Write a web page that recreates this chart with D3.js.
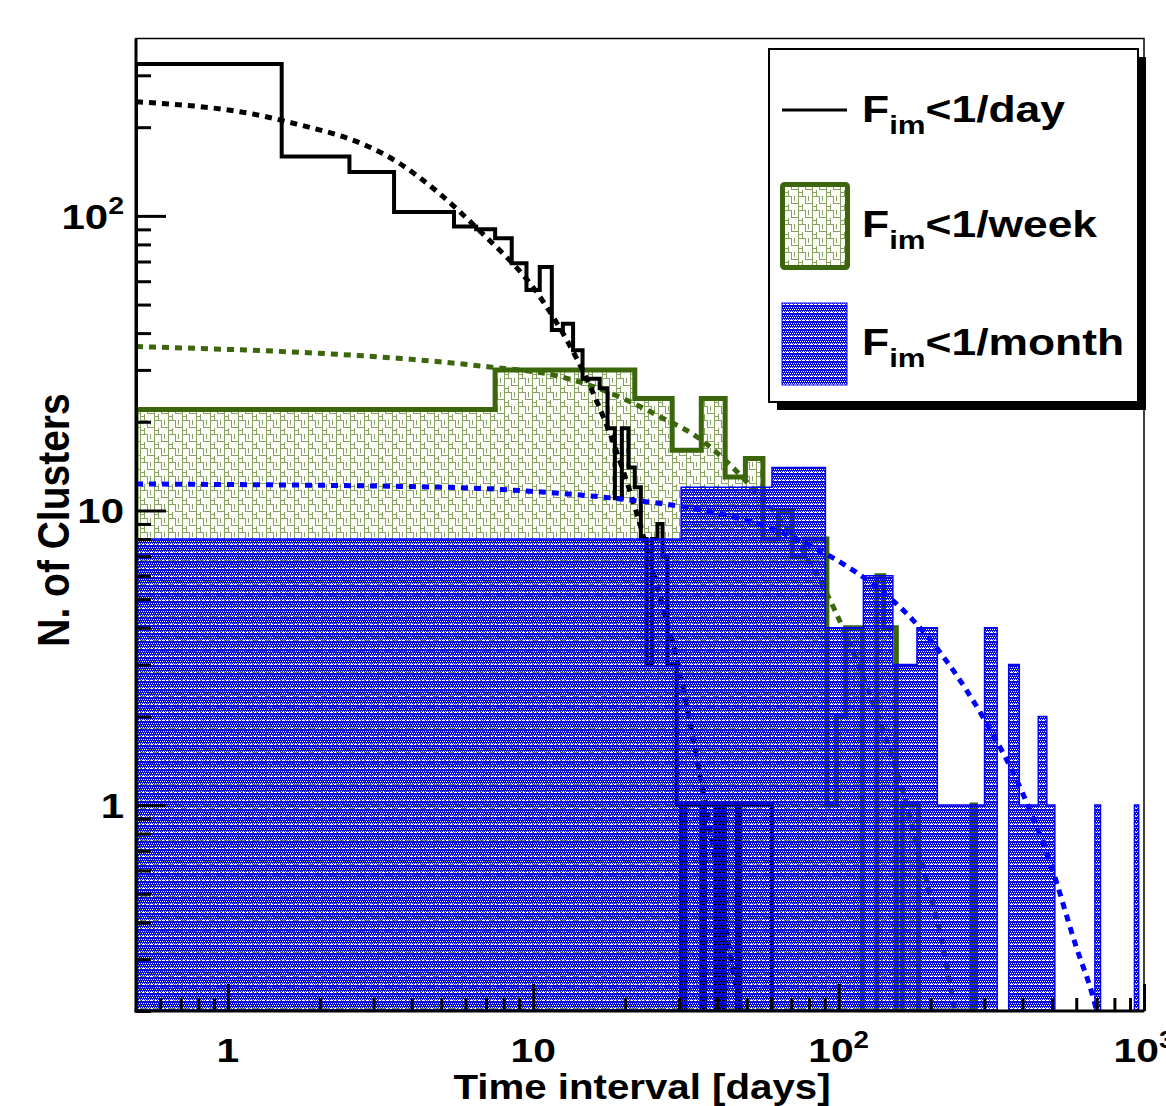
<!DOCTYPE html>
<html>
<head>
<meta charset="utf-8">
<script src="https://d3js.org/d3.v7.min.js"></script>
<style>
  body { margin: 0; background: #fff; }
  text { font-family: "Liberation Sans", Arial, Helvetica, sans-serif; font-weight: bold; fill: #000; }
</style>
</head>
<body>
<svg id="chart" width="1166" height="1106"></svg>
<script>
// histograms start at 0.5 days, bin widths in days
var binStart = 0.5;
var dayBinWidth = 1;
var weekBinWidth = 7;
var monthBinWidth = 30;

// F_im < 1/day, one bin per day
var dayCounts = [328, 159, 141, 103, 103, 92, 90, 84, 69, 56,
                 67, 41, 43, 35, 28, 28, 26, 19, 11, 19,
                 14, 12, 8, 3, 8, 9, 7, 3, 3, 1,
                 0, 1, 1, 1, 1, 0, 1, 1, 1, 0,
                 1, 0, 1, 1, 1, 1, 0, 1, 1, 1,
                 1, 1, 1, 1, 1, 1, 1, 1, 1, 1];

// F_im < 1/week, 7 day bins
var weekCounts = [22, 30, 30, 24, 16, 24, 13, 15, 8, 10,
                  7, 8, 8, 1, 2, 4, 4, 0, 0, 6,
                  4, 4, 0, 1, 1, 1, 0, 0, 0, 0,
                  0, 0, 0, 0, 0, 0, 0, 0, 0, 1];

// F_im < 1/month, 30 day bins
var monthCounts = [8, 12, 14, 4, 6, 3, 4, 1, 1, 1,
                   4, 0, 3, 1, 1, 2, 1, 0, 0, 0,
                   0, 0, 0, 1, 0, 0, 0, 0, 0, 0,
                   0, 1];

// fitted curves, [days, clusters]
var dayFit = [[0.5, 244], [1.5, 211], [3.6, 152], [6.6, 90], [10.8, 51], [15.2, 27],
              [17.8, 18.3], [21.8, 9.8], [25, 5.9], [30, 2.9], [35, 1.3], [40, 0.6],
              [45.6, 0.26], [48, 0.2]];
var weekFit = [[0.5, 36], [7.2, 30.7], [12.2, 28.5], [19.5, 24.1], [26, 20.8], [34.3, 17.8],
               [50, 12.5], [82, 6.45], [98, 4.5], [130, 2.2], [159, 1.2], [190, 0.6],
               [220, 0.33], [240, 0.2]];
var monthFit = [[0.5, 12.3], [5, 12.0], [10, 11.6], [20, 10.9], [32.6, 10.2], [60, 8.7],
                [93.6, 7.0], [130, 5.6], [175, 4.25], [230, 3.0], [296, 2.0], [400, 1.1],
                [492, 0.64], [600, 0.33], [680, 0.224], [700, 0.2]];

var xMajor = [1, 10, 100, 1000];
var xMinor = [0.6, 0.7, 0.8, 0.9, 2, 3, 4, 5, 6, 7, 8, 9, 20, 30, 40, 50, 60, 70, 80, 90,
              200, 300, 400, 500, 600, 700, 800, 900];
var xTickBase = ['1', '10', '10', '10'];
var xTickExp = ['', '', '2', '3'];

var yMajor = [1, 10, 100];
var yMinor = [0.2, 0.3, 0.4, 0.5, 0.6, 0.7, 0.8, 0.9, 2, 3, 4, 5, 6, 7, 8, 9,
              20, 30, 40, 50, 60, 70, 80, 90, 200, 300];
var yTickBase = ['1', '10', '10'];
var yTickExp = ['', '', '2'];

var legendLabels = ['<1/day', '<1/week', '<1/month'];

var dayColor = '#000000';
var weekColor = '#3b660c';
var monthColor = '#0000ff';

var frame = {left: 136, right: 1144, top: 38.5, bottom: 1011};
var svg = d3.select('#chart');

var x = d3.scaleLog().domain([0.5, 1000]).range([frame.left, frame.right]);
var y = d3.scaleLog().domain([0.2, 400]).range([frame.bottom, frame.top]);

var defs = svg.append('defs');
defs.append('clipPath').attr('id', 'plotClip')
  .append('rect')
  .attr('x', frame.left).attr('y', frame.top)
  .attr('width', frame.right - frame.left)
  .attr('height', frame.bottom - frame.top);

// staircase hatch of the weekly histogram
var weekPat = defs.append('pattern')
  .attr('id', 'weekFill')
  .attr('patternUnits', 'userSpaceOnUse')
  .attr('width', 14).attr('height', 14);
weekPat.append('rect').attr('width', 14).attr('height', 14).attr('fill', '#fdfdf7');
weekPat.append('path')
  .attr('d', 'M0.5,0V14M0,0.5H7.5V7.5H14M4.5,7.5V14M0.5,10.5H4.5M10.5,0V4.5')
  .attr('fill', 'none')
  .attr('stroke', '#88a266')
  .attr('stroke-width', 1)
  .attr('shape-rendering', 'crispEdges');

// dotted blue pattern, holes are transparent
var monthPat = defs.append('pattern')
  .attr('id', 'monthFill')
  .attr('patternUnits', 'userSpaceOnUse')
  .attr('width', 4).attr('height', 8);
monthPat.append('path')
  .attr('d', 'M0,1H4V8H0Z M1,3h1v1h-1Z M3,3h1v1h-1Z M0,5h1v1h-1Z M2,5h1v1h-1Z M1,7h1v1h-1Z M3,7h1v1h-1Z')
  .attr('fill-rule', 'evenodd')
  .attr('fill', '#0606d8')
  .attr('shape-rendering', 'crispEdges');
monthPat.append('rect')
  .attr('x', 1).attr('y', 0).attr('width', 1).attr('height', 1)
  .attr('fill', '#3030e0')
  .attr('shape-rendering', 'crispEdges');

function stepPoints(width, counts) {
  var pts = [[x(binStart), frame.bottom]];
  counts.forEach(function(c, i) {
    var yy = c > 0 ? y(c) : frame.bottom;
    pts.push([x(binStart + i * width), yy]);
    pts.push([x(binStart + (i + 1) * width), yy]);
  });
  pts.push([x(binStart + counts.length * width), frame.bottom]);
  return pts;
}

var line = d3.line();
var fitLine = d3.line()
  .x(function(d) { return x(d[0]); })
  .y(function(d) { return y(d[1]); })
  .curve(d3.curveMonotoneX);

var plot = svg.append('g').attr('clip-path', 'url(#plotClip)');

function drawFit(points, color) {
  plot.append('path')
    .attr('d', fitLine(points))
    .attr('fill', 'none')
    .attr('stroke', color)
    .attr('stroke-width', 5)
    .attr('stroke-dasharray', '7,6');
}

// weekly histogram
var weekPts = stepPoints(weekBinWidth, weekCounts);
plot.append('path')
  .attr('d', line(weekPts) + 'Z')
  .attr('fill', 'url(#weekFill)');
plot.append('path')
  .attr('d', line(weekPts))
  .attr('fill', 'none')
  .attr('stroke', weekColor)
  .attr('stroke-width', 5);
drawFit(weekFit, weekColor);

// daily histogram
plot.append('path')
  .attr('d', line(stepPoints(dayBinWidth, dayCounts)))
  .attr('fill', 'none')
  .attr('stroke', dayColor)
  .attr('stroke-width', 4);
drawFit(dayFit, dayColor);

// monthly histogram
var monthPts = stepPoints(monthBinWidth, monthCounts);
plot.append('path')
  .attr('d', line(monthPts) + 'Z')
  .attr('fill', 'url(#monthFill)');
plot.append('path')
  .attr('d', line(monthPts))
  .attr('fill', 'none')
  .attr('stroke', monthColor)
  .attr('stroke-width', 1.5);
drawFit(monthFit, monthColor);

// frame
svg.append('rect')
  .attr('x', frame.left).attr('y', frame.top)
  .attr('width', frame.right - frame.left)
  .attr('height', frame.bottom - frame.top)
  .attr('fill', 'none')
  .attr('stroke', '#000')
  .attr('stroke-width', 1.5);

function addTicks(gen, transform) {
  var g = svg.append('g').attr('transform', transform).call(gen);
  g.select('.domain').remove();
  g.selectAll('text').remove();
  g.selectAll('line').attr('stroke', '#000').attr('stroke-width', 3);
  return g;
}

addTicks(d3.axisBottom(x).tickValues(xMajor).tickSize(-27).tickFormat(''), 'translate(0,' + frame.bottom + ')');
addTicks(d3.axisBottom(x).tickValues(xMinor).tickSize(-13).tickFormat(''), 'translate(0,' + frame.bottom + ')');
addTicks(d3.axisLeft(y).tickValues(yMajor).tickSize(-30).tickFormat(''), 'translate(' + frame.left + ',0)');
addTicks(d3.axisLeft(y).tickValues(yMinor).tickSize(-15).tickFormat(''), 'translate(' + frame.left + ',0)');

svg.append('line')
  .attr('x1', frame.left).attr('x2', frame.left)
  .attr('y1', frame.top).attr('y2', frame.bottom + 1.5)
  .attr('stroke', '#000').attr('stroke-width', 3);
svg.append('line')
  .attr('x1', frame.left - 1.5).attr('x2', frame.right)
  .attr('y1', frame.bottom).attr('y2', frame.bottom)
  .attr('stroke', '#000').attr('stroke-width', 3);

function label(parent, px, py, anchor, size, base, exp, sx) {
  var t = parent.append('text')
    .attr('transform', 'translate(' + px + ',' + py + ') scale(' + sx + ',1)')
    .attr('text-anchor', anchor)
    .attr('font-size', size);
  t.append('tspan').text(base);
  if (exp) {
    t.append('tspan')
      .attr('font-size', size * 0.68)
      .attr('dy', -size * 0.42)
      .text(exp);
  }
  return t;
}

xMajor.forEach(function(v, i) {
  label(svg, x(v), 1062, 'middle', 34, xTickBase[i], xTickExp[i], 1.2);
});
yMajor.forEach(function(v, i) {
  label(svg, 124, y(v) + 13, 'end', 35, yTickBase[i], yTickExp[i], 1.2);
});

label(svg, 642, 1099, 'middle', 35, 'Time interval [days]', '', 1.15);
svg.append('text')
  .attr('transform', 'translate(69,520) scale(1.15,1) rotate(-90)')
  .attr('text-anchor', 'middle')
  .attr('font-size', 39)
  .text('N. of Clusters');

// legend
var leg = {x: 769, y: 49, w: 369, h: 353};
svg.append('rect')
  .attr('x', leg.x + 8).attr('y', leg.y + 8)
  .attr('width', leg.w).attr('height', leg.h)
  .attr('fill', '#000');
svg.append('rect')
  .attr('x', leg.x).attr('y', leg.y)
  .attr('width', leg.w).attr('height', leg.h)
  .attr('fill', '#fff')
  .attr('stroke', '#000')
  .attr('stroke-width', 2);

svg.append('line')
  .attr('x1', 782).attr('x2', 847)
  .attr('y1', 110).attr('y2', 110)
  .attr('stroke', dayColor).attr('stroke-width', 3);
svg.append('rect')
  .attr('x', 782.5).attr('y', 184.5).attr('width', 65).attr('height', 83)
  .attr('fill', 'url(#weekFill)')
  .attr('stroke', weekColor).attr('stroke-width', 5)
  .attr('rx', 2);
svg.append('rect')
  .attr('x', 782).attr('y', 303).attr('width', 65).attr('height', 82)
  .attr('fill', 'url(#monthFill)')
  .attr('stroke', monthColor).attr('stroke-width', 1);

var legendBaselines = [121.5, 236.5, 355];
legendLabels.forEach(function(txt, i) {
  var t = svg.append('text')
    .attr('transform', 'translate(862,' + legendBaselines[i] + ') scale(1.2,1)')
    .attr('font-size', 37);
  t.append('tspan').text('F');
  t.append('tspan').attr('font-size', 26).attr('dy', 12).text('im');
  t.append('tspan').attr('dy', -12).text(txt);
});
</script>
</body>
</html>
